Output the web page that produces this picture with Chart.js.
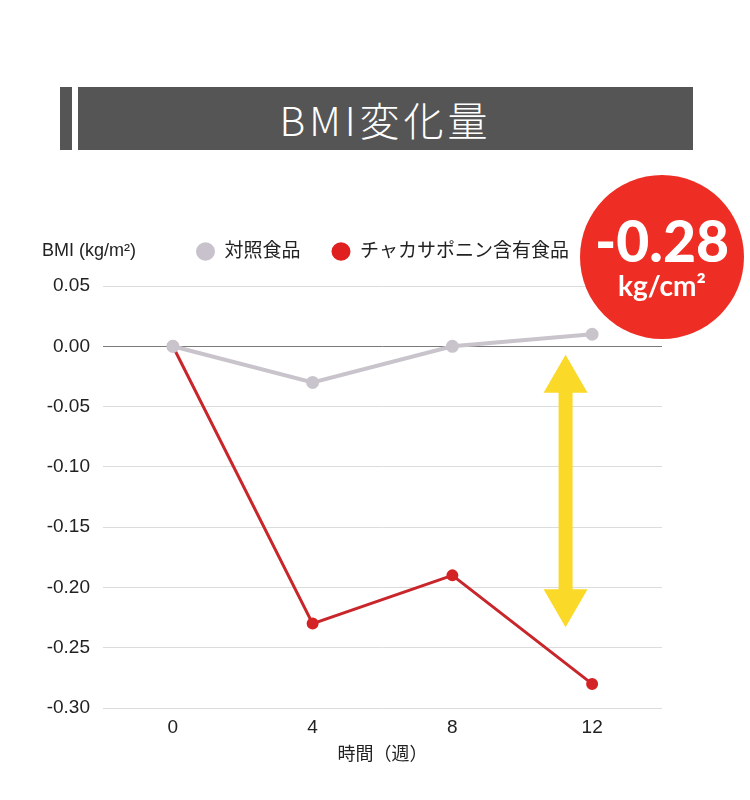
<!DOCTYPE html>
<html>
<head>
<meta charset="utf-8">
<script src="https://cdn.jsdelivr.net/npm/chart.js@4.4.1/dist/chart.umd.min.js"></script>
<style>
  html, body { margin:0; padding:0; background:#fff; width:750px; height:800px; overflow:hidden; }
  #wrap { position:relative; width:750px; height:800px; }
  .bar-small { position:absolute; left:60px; top:87px; width:12px; height:63px; background:#555; }
  .bar-main { position:absolute; left:78px; top:87px; width:615px; height:63px; background:#555;
    color:#fff; font-family:"Noto Sans CJK JP","Noto Sans",sans-serif; font-weight:300; font-size:40px;
    letter-spacing:4px; display:flex; align-items:center; justify-content:center; }
  #chartBox { position:absolute; left:0; top:180px; width:750px; height:620px; }
  .badge { position:absolute; left:580px; top:175px; width:164px; height:164px; border-radius:50%;
    background:#ee2e24; color:#fff; font-family:Lato,"Open Sans",sans-serif; font-weight:bold; text-align:center; z-index:5; }
  .badge .v { position:absolute; left:0; right:0; top:37px; font-size:57px; line-height:1; font-weight:900; }
  .badge .u { position:absolute; left:0; right:0; top:96px; font-size:28px; line-height:1; }
</style>
</head>
<body>
<div id="wrap">
  <div class="bar-small"></div>
  <div class="bar-main">BMI変化量</div>
  <div id="chartBox"><canvas id="c"></canvas></div>
  <div class="badge"><div class="v">-0.28</div><div class="u">kg/cm²</div></div>
</div>
<script>
const weeks = ['0', '4', '8', '12'];
const controlValues = [0, -0.03, 0, 0.01];
const saponinValues = [0, -0.23, -0.19, -0.28];
const seriesNames = ['対照食品', 'チャカサポニン含有食品'];
const yTitle = 'BMI (kg/m²)';
const xTitle = '時間（週）';
const yMin = -0.30, yMax = 0.05, yStep = 0.05;
// arrow annotation (in data coordinates)
const arrowX = 2.81, arrowTop = -0.007, arrowBottom = -0.233;

const FONT = '"Liberation Sans", Arial, "Noto Sans CJK JP", sans-serif';

const legendSpacePlugin = {
  id: 'legendSpace',
  beforeLayout(chart) {
    const lg = chart.legend;
    if (lg && !lg._patched) {
      const orig = lg.fit;
      lg.fit = function () { orig.call(this); this.height += 15; };
      lg._patched = true;
    }
  }
};

const yTitlePlugin = {
  id: 'yTitleTop',
  afterDraw(chart) {
    const ctx = chart.ctx;
    const legend = chart.legend;
    ctx.save();
    ctx.font = '18px ' + FONT;
    ctx.fillStyle = '#222';
    ctx.textBaseline = 'middle';
    ctx.textAlign = 'left';
    const hb = legend.legendHitBoxes[0];
    const y = hb ? hb.top + hb.height / 2 : 71;
    ctx.fillText(yTitle, 42, y);
    ctx.restore();
  }
};

const arrowPlugin = {
  id: 'arrow',
  afterDatasetsDraw(chart) {
    const ctx = chart.ctx;
    const xs = chart.scales.x, ys = chart.scales.y;
    const x = xs.getPixelForValue(arrowX);
    const top = ys.getPixelForValue(arrowTop);
    const bot = ys.getPixelForValue(arrowBottom);
    const shaft = 14, head = 44, headH = 38;
    ctx.save();
    ctx.fillStyle = '#fbd928';
    ctx.beginPath();
    ctx.moveTo(x, top);
    ctx.lineTo(x + head / 2, top + headH);
    ctx.lineTo(x + shaft / 2, top + headH);
    ctx.lineTo(x + shaft / 2, bot - headH);
    ctx.lineTo(x + head / 2, bot - headH);
    ctx.lineTo(x, bot);
    ctx.lineTo(x - head / 2, bot - headH);
    ctx.lineTo(x - shaft / 2, bot - headH);
    ctx.lineTo(x - shaft / 2, top + headH);
    ctx.lineTo(x - head / 2, top + headH);
    ctx.closePath();
    ctx.fill();
    ctx.restore();
  }
};

new Chart(document.getElementById('c'), {
  type: 'line',
  data: {
    labels: weeks,
    datasets: [
      { label: seriesNames[0], data: controlValues, borderColor: '#c9c4cc', backgroundColor: '#c9c4cc',
        pointBackgroundColor: '#c9c4cc', pointBorderColor: '#c9c4cc', borderWidth: 4, pointRadius: 4.5, tension: 0 },
      { label: seriesNames[1], data: saponinValues, borderColor: '#c8262a', backgroundColor: '#c8262a',
        pointBackgroundColor: '#d42326', pointBorderColor: '#d42326', borderWidth: 3, pointRadius: 4.5, tension: 0 }
    ]
  },
  options: {
    responsive: true,
    maintainAspectRatio: false,
    animation: false,
    layout: { padding: { top: 31, right: 88, bottom: 34, left: 0 } },
    plugins: {
      tooltip: { enabled: false },
      legend: {
        position: 'top',
        fullSize: false,
        labels: {
          usePointStyle: true,
          pointStyle: 'circle',
          boxWidth: 19,
          boxHeight: 13,
          pointStyleWidth: 19,
          padding: 31,
          color: '#222',
          font: { family: FONT, size: 19 },
          generateLabels(chart) {
            const cols = ['#c7c2cc', '#e01f1f'];
            return chart.data.datasets.map((d, i) => ({
              text: d.label, fillStyle: cols[i], strokeStyle: cols[i], lineWidth: 0,
              pointStyle: 'circle', hidden: false, datasetIndex: i, fontColor: '#222'
            }));
          }
        }
      }
    },
    scales: {
      x: {
        offset: true,
        grid: { display: false },
        border: { display: false },
        ticks: { color: '#222', font: { family: FONT, size: 19 }, padding: 0 },
        title: { display: true, text: xTitle, color: '#222', font: { family: FONT, size: 18 }, padding: { top: 0, bottom: 0 } },
        afterFit(s) { s.height = 58; }
      },
      y: {
        min: yMin, max: yMax,
        grid: {
          drawTicks: false,
          color: (c) => Math.abs(c.tick.value) < 1e-9 ? '#7a7a7a' : '#dcdcdc',
          lineWidth: 1
        },
        border: { display: false },
        ticks: {
          stepSize: yStep, padding: 13, color: '#222', font: { family: FONT, size: 19 },
          callback: (v) => (Math.abs(v) < 1e-9 ? 0 : v).toFixed(2)
        },
        afterFit(s) { s.width = 103; }
      }
    }
  },
  plugins: [legendSpacePlugin, arrowPlugin, yTitlePlugin]
});
</script>
</body>
</html>
